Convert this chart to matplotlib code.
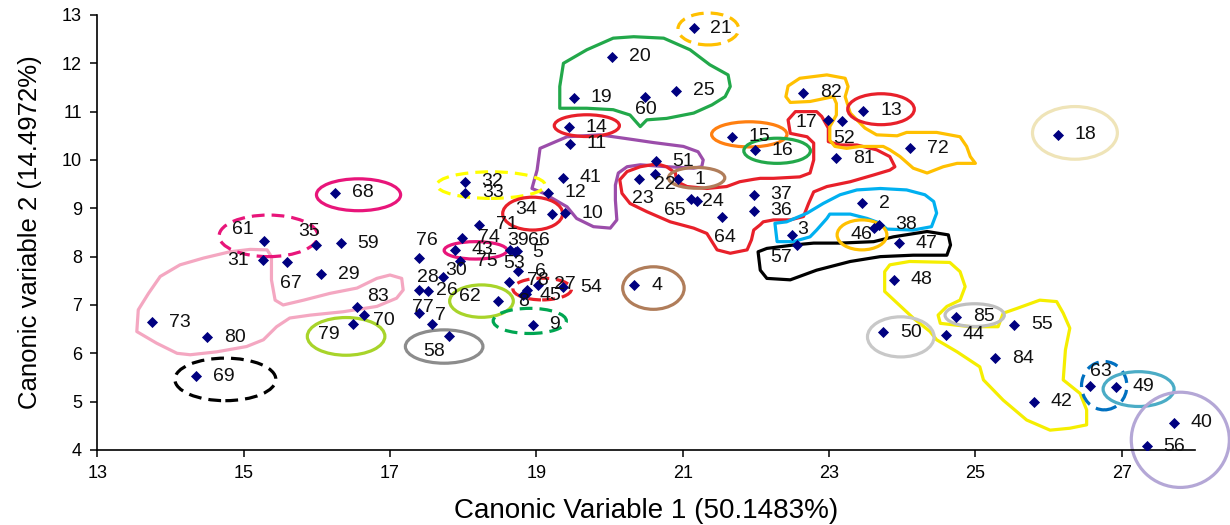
import matplotlib
matplotlib.use("Agg")
import matplotlib.pyplot as plt
from matplotlib.patches import Ellipse, Polygon

# ---------------- data ----------------
labels = list(range(1, 86))
cv1 = [20.94, 23.45, 22.49, 20.34, 18.71, 18.75, 17.58, 18.82, 18.95, 19.39,
       19.46, 19.16, 23.47, 19.45, 21.67, 21.99, 22.98, 26.13, 19.51, 20.04,
       21.15, 20.62, 20.40, 21.19, 20.91, 17.52, 19.02, 17.39, 16.06, 17.73,
       15.27, 18.02, 18.03, 19.21, 15.99, 21.97, 21.97, 23.68, 18.64, 27.71,
       19.36, 25.80, 17.89, 24.60, 18.86, 23.62, 23.95, 23.89, 26.92, 23.74,
       20.63, 23.17, 18.62, 19.37, 25.53, 27.34, 22.56, 17.81, 16.33, 20.48,
       15.28, 18.48, 26.57, 21.54, 21.12, 18.74, 15.59, 16.25, 14.35, 16.64,
       18.22, 24.11, 13.75, 17.98, 17.95, 17.39, 17.39, 18.87, 16.49, 14.50,
       23.10, 22.65, 16.55, 25.27, 24.74]
cv2 = [9.60, 9.10, 8.45, 7.41, 8.09, 7.70, 6.61, 7.21, 6.59, 8.90,
       10.34, 9.32, 11.02, 10.68, 10.48, 10.20, 10.83, 10.52, 11.29, 12.14,
       12.73, 9.70, 9.60, 9.15, 11.43, 7.28, 7.42, 7.31, 7.64, 7.57,
       7.93, 9.55, 9.32, 8.88, 8.24, 8.95, 9.28, 8.66, 8.14, 4.56,
       9.63, 5.00, 8.14, 6.38, 7.23, 8.60, 8.28, 7.52, 5.31, 6.44,
       9.97, 10.81, 7.48, 7.37, 6.59, 4.08, 8.24, 6.36, 8.28, 11.31,
       8.33, 7.08, 5.33, 8.83, 9.19, 8.11, 7.88, 9.32, 5.53, 6.79,
       8.66, 10.24, 6.64, 8.39, 7.90, 7.98, 6.83, 7.31, 6.60, 6.33,
       10.04, 11.39, 6.95, 5.90, 6.76]

x_ticks = [13, 15, 17, 19, 21, 23, 25, 27]
y_ticks = [4, 5, 6, 7, 8, 9, 10, 11, 12, 13]
x_title = "Canonic Variable 1 (50.1483%)"
y_title = "Canonic variable 2 (14.4972%)"

# ---------------- label placement (offset points from marker) ----------------
default_offset = (12, 0)
label_offsets = {
    61: (-23, 8), 35: (-13, 10), 31: (-26, 0), 67: (-5, -15), 83: (7, 8),
    70: (7, -4), 79: (-25, -7), 76: (-2, 12), 39: (-2, 7), 66: (8, 8),
    53: (-4, 13), 78: (0, 7), 8: (-4, -5), 45: (10, -1), 62: (-28, 3),
    28: (-1, 9), 30: (1, 5), 26: (6, 1), 77: (-5, 4), 7: (2, 6),
    58: (-19, -11), 34: (-26, 3), 22: (-1, -7), 23: (-5, -14), 24: (4, 0),
    65: (-20, -8), 64: (-6, -15), 17: (-23, -2), 52: (-6, -13), 60: (-7, -9),
    3: (4, 4), 46: (-17, -5), 57: (-19, -9), 63: (0, 10),
}

# ---------------- group outlines (annotation shapes, data units) ----------------
# (cx, cy, width, height, color, dashed)
ellipses = [
    (21.35, 12.71, 0.83, 0.66, "#FFC000", True),    # 21
    (19.69, 10.71, 0.89, 0.45, "#E8202A", False),   # 14
    (21.91, 10.53, 1.03, 0.52, "#FF7F10", False),   # 15
    (22.29, 10.19, 0.91, 0.52, "#22A84A", False),   # 16
    (23.71, 11.05, 0.91, 0.64, "#E8202A", False),   # 13
    (26.36, 10.56, 1.16, 1.09, "#EFE4B8", False),   # 18
    (21.19, 9.63, 0.77, 0.43, "#B07D5A", False),    # 1
    (18.38, 9.48, 1.48, 0.55, "#FFFF00", True),     # 32,33
    (18.95, 8.89, 0.82, 0.68, "#E8202A", False),    # 34
    (16.57, 9.28, 1.15, 0.66, "#E8157A", False),    # 68
    (15.34, 8.43, 1.35, 0.86, "#E8157A", True),     # 61
    (18.17, 8.13, 0.86, 0.36, "#E8157A", False),    # 43
    (18.25, 7.08, 0.87, 0.67, "#A8D42A", False),    # 62
    (16.40, 6.35, 1.06, 0.78, "#A8D42A", False),    # 79
    (17.74, 6.14, 1.06, 0.69, "#8C8C8C", False),    # 58
    (14.75, 5.46, 1.38, 0.88, "#000000", True),     # 69
    (18.91, 6.67, 1.00, 0.52, "#00A651", True),     # 9
    (19.08, 7.33, 0.80, 0.45, "#E8202A", True),     # 27
    (20.60, 7.35, 0.84, 0.88, "#B07D5A", False),    # 4
    (23.45, 8.45, 0.68, 0.62, "#FFC000", False),    # 46
    (24.99, 6.79, 0.81, 0.47, "#BFBFBF", False),    # 85
    (23.98, 6.34, 0.91, 0.83, "#C8C8C8", False),    # 50
    (26.76, 5.33, 0.62, 1.00, "#0070C0", True),     # 63
    (27.23, 5.26, 0.97, 0.72, "#4BACC6", False),    # 49
    (27.80, 4.21, 1.34, 1.97, "#B4A7D6", False),    # 40,56
]

outline_green = [(19.37, 12.00), (19.69, 12.28), (20.05, 12.52), (20.33, 12.55), (20.74, 12.52),
                 (21.10, 12.28), (21.37, 11.97), (21.62, 11.76), (21.65, 11.52), (21.58, 11.31),
                 (21.40, 11.14), (21.15, 10.97), (20.78, 10.86), (20.51, 10.83), (20.42, 10.69),
                 (20.28, 10.93), (20.05, 11.04), (19.69, 11.07), (19.32, 11.07), (19.32, 11.52)]
outline_purple = [(19.05, 10.24), (19.42, 10.48), (19.87, 10.52), (20.33, 10.42), (20.60, 10.36),
                  (21.01, 10.28), (21.21, 10.17), (21.28, 10.00), (21.26, 9.86), (21.15, 9.83),
                  (20.78, 9.86), (20.42, 9.90), (20.24, 9.86), (20.12, 9.73), (20.08, 9.48),
                  (20.08, 9.17), (20.10, 8.76), (20.01, 8.59), (19.78, 8.62), (19.55, 8.79),
                  (19.42, 9.03), (19.10, 9.31), (18.94, 9.41), (18.96, 9.52), (19.01, 9.79)]
outline_red = [(22.10, 8.72), (22.24, 8.76), (22.47, 8.76), (22.65, 8.83), (22.72, 9.10),
               (22.79, 9.34), (22.97, 9.45), (23.29, 9.55), (23.61, 9.69), (23.83, 9.79),
               (23.90, 9.86), (23.83, 10.07), (23.65, 10.21), (23.38, 10.31), (23.15, 10.31),
               (22.99, 10.38), (22.99, 10.66), (22.90, 10.90), (22.83, 11.00), (22.54, 11.00),
               (22.44, 10.83), (22.47, 10.55), (22.70, 10.48), (22.79, 10.35), (22.79, 10.00),
               (22.74, 9.73), (22.60, 9.65), (22.24, 9.62), (22.06, 9.62), (21.97, 9.60),
               (21.78, 9.55), (21.60, 9.45), (21.33, 9.41), (21.06, 9.45), (20.92, 9.55),
               (20.90, 9.73), (20.78, 9.86), (20.65, 9.92), (20.42, 9.86), (20.24, 9.76),
               (20.14, 9.59), (20.17, 9.31), (20.28, 9.10), (20.51, 8.93), (20.83, 8.72),
               (21.15, 8.59), (21.33, 8.48), (21.40, 8.31), (21.47, 8.14), (21.65, 8.07),
               (21.88, 8.14), (21.94, 8.35), (21.97, 8.55), (22.06, 8.66)]
outline_gold = [(22.41, 11.31), (22.44, 11.53), (22.60, 11.69), (22.97, 11.76), (23.22, 11.69),
                (23.26, 11.52), (23.22, 11.31), (23.29, 10.97), (23.49, 10.66), (23.65, 10.52),
                (23.93, 10.50), (24.06, 10.57), (24.47, 10.57), (24.79, 10.48), (24.88, 10.28),
                (24.93, 10.07), (25.00, 9.93), (24.75, 9.93), (24.56, 9.86), (24.34, 9.73),
                (24.15, 9.83), (23.97, 10.07), (23.83, 10.21), (23.74, 10.28), (23.42, 10.28),
                (23.24, 10.24), (23.08, 10.28), (23.01, 10.41), (23.01, 10.69), (23.10, 10.93),
                (23.10, 11.17), (23.06, 11.31), (22.74, 11.21), (22.47, 11.19)]
outline_blue = [(22.26, 8.69), (22.29, 8.31), (22.51, 8.31), (22.74, 8.41), (22.83, 8.55),
                (22.97, 8.79), (23.01, 8.88), (23.29, 8.88), (23.52, 8.79), (23.70, 8.69),
                (23.79, 8.57), (24.15, 8.55), (24.40, 8.62), (24.47, 8.90), (24.43, 9.14),
                (24.31, 9.28), (24.06, 9.38), (23.70, 9.41), (23.38, 9.38), (23.15, 9.28),
                (22.92, 9.10), (22.70, 8.90), (22.42, 8.72)]
outline_black = [(22.03, 8.10), (22.06, 7.72), (22.15, 7.55), (22.47, 7.52), (22.83, 7.72),
                 (23.29, 7.90), (23.70, 8.00), (24.15, 8.03), (24.61, 8.03), (24.66, 8.24),
                 (24.63, 8.45), (24.34, 8.52), (23.88, 8.41), (23.61, 8.31), (23.15, 8.28),
                 (22.79, 8.28), (22.51, 8.24), (22.15, 8.17)]
outline_yellow = [(23.76, 7.69), (23.83, 7.83), (24.10, 7.90), (24.65, 7.88), (24.79, 7.69),
                  (24.86, 7.38), (24.79, 7.10), (24.61, 6.97), (24.49, 6.79), (24.52, 6.62),
                  (24.93, 6.55), (25.31, 6.55), (25.38, 6.83), (25.57, 6.93), (25.88, 7.10),
                  (26.11, 7.07), (26.20, 6.83), (26.29, 6.52), (26.23, 6.07), (26.20, 5.45),
                  (26.43, 5.17), (26.52, 4.83), (26.52, 4.52), (26.29, 4.45), (26.02, 4.41),
                  (25.70, 4.62), (25.38, 5.03), (25.11, 5.45), (25.06, 5.72), (24.75, 6.03),
                  (24.47, 6.28), (24.38, 6.45), (24.15, 6.73), (23.93, 7.04), (23.76, 7.28)]
outline_pink = [(13.54, 6.45), (13.56, 6.90), (13.70, 7.24), (13.86, 7.59), (14.13, 7.83),
                (14.45, 7.97), (14.81, 8.10), (15.09, 8.15), (15.32, 8.14), (15.38, 8.00),
                (15.38, 7.52), (15.43, 7.10), (15.54, 7.00), (15.82, 7.10), (16.18, 7.24),
                (16.55, 7.35), (16.82, 7.55), (17.00, 7.62), (17.16, 7.55), (17.18, 7.31),
                (17.09, 7.14), (16.82, 6.97), (16.36, 6.86), (15.91, 6.79), (15.63, 6.73),
                (15.45, 6.55), (15.27, 6.28), (15.04, 6.14), (14.63, 6.03), (14.27, 5.97),
                (14.09, 6.00), (13.81, 6.21)]
outlines = [
    (outline_green, "#22A84A"), (outline_purple, "#9B4DAA"), (outline_red, "#E8202A"),
    (outline_gold, "#FFC000"), (outline_blue, "#00B0F0"), (outline_black, "#000000"),
    (outline_yellow, "#F5EE00"), (outline_pink, "#F4A7C1"),
]

# ---------------- figure ----------------
plt.rcParams["font.family"] = ["Liberation Sans", "DejaVu Sans"]
fig = plt.figure(figsize=(12.3, 5.25), dpi=100)
ax = fig.add_axes([0.0791, 0.1429, 0.8924, 0.8286])
ax.set_xlim(13, 28)
ax.set_ylim(4, 13)

for pts, col in outlines:
    ax.add_patch(Polygon(pts, closed=True, fill=False, edgecolor=col, lw=2.3,
                         joinstyle="round", zorder=2))
for cx, cy, w, h, col, dashed in ellipses:
    ax.add_patch(Ellipse((cx, cy), w, h, fill=False, edgecolor=col, lw=2.3,
                         linestyle=(0, (4, 2.2)) if dashed else "-",
                         clip_on=False, zorder=2))

ax.scatter(cv1, cv2, marker="D", s=32, color="#000080", zorder=4, linewidths=0)
for lab, x, y in zip(labels, cv1, cv2):
    off = label_offsets.get(lab, default_offset)
    ax.annotate(str(lab), (x, y), xytext=off, textcoords="offset points",
                ha="left", va="center", fontsize=14, color="#111111", zorder=5,
                annotation_clip=False)

for s in ["top", "right"]:
    ax.spines[s].set_visible(False)
for s in ["left", "bottom"]:
    ax.spines[s].set_linewidth(1.2)
ax.set_xticks(x_ticks)
ax.set_yticks(y_ticks)
tick_font = ["Liberation Sans Narrow", "Liberation Sans", "DejaVu Sans"]
ax.tick_params(direction="out", length=5, width=1.1, labelsize=13, pad=6)
for t in ax.get_xticklabels() + ax.get_yticklabels():
    t.set_family(tick_font)
ax.set_xlabel(x_title, fontsize=20, labelpad=11)
ax.set_ylabel(y_title, fontsize=18.5, labelpad=14)

fig.savefig("out.png", dpi=100)
